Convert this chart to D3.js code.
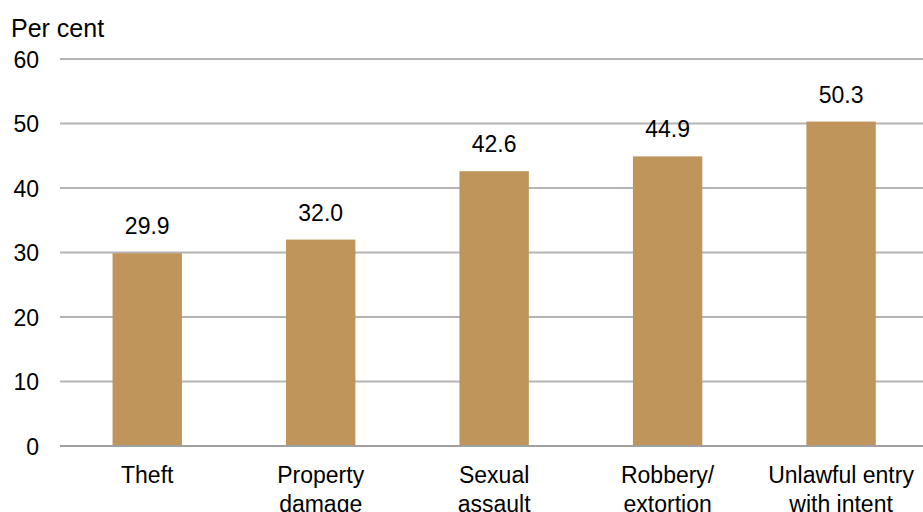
<!DOCTYPE html>
<html>
<head>
<meta charset="utf-8">
<script src="https://cdn.jsdelivr.net/npm/d3@7"></script>
<style>
  html, body { margin: 0; padding: 0; background: #fff; }
  svg { display: block; font-family: "Liberation Sans", Arial, sans-serif; }
</style>
</head>
<body>
<svg id="chart" width="923" height="512"></svg>
<script>
// Share of offences, per cent
const categories = [
  ["Theft"],
  ["Property", "damage"],
  ["Sexual", "assault"],
  ["Robbery/", "extortion"],
  ["Unlawful entry", "with intent"]
];
const values = [29.9, 32.0, 42.6, 44.9, 50.3];
const yTicks = [0, 10, 20, 30, 40, 50, 60];
const yTitle = "Per cent";

const W = 923, H = 512;
const svg = d3.select("#chart");

const keys = categories.map(c => c.join(" "));
const x = d3.scaleBand()
  .domain(keys)
  .range([60.5, 927.8])
  .paddingInner(0.6)
  .paddingOuter(0.3);

const y = d3.scaleLinear().domain([0, 60]).range([446, 59]);

const fontSize = 23;
const barColor = "#BF955B";

// gridlines
svg.append("g")
  .selectAll("line")
  .data(yTicks)
  .join("line")
  .attr("x1", 60)
  .attr("x2", W)
  .attr("y1", d => y(d))
  .attr("y2", d => y(d))
  .attr("stroke", d => d === 0 ? "#a0a0a0" : "#b4b4b4")
  .attr("stroke-width", 2);

// y axis labels
const yAxis = d3.axisLeft(y).tickValues(yTicks).tickSize(0).tickPadding(0).tickFormat(d3.format("d"));
const ya = svg.append("g").attr("transform", "translate(39,0)").call(yAxis);
ya.select(".domain").remove();
ya.selectAll("text")
  .attr("font-size", fontSize)
  .attr("font-family", "Liberation Sans, Arial, sans-serif")
  .attr("fill", "#000")
  .attr("dy", "0.35em");

svg.append("text")
  .attr("x", 11)
  .attr("y", 37)
  .attr("font-size", 25)
  .attr("fill", "#000")
  .text(yTitle);

// bars
svg.append("g")
  .selectAll("rect")
  .data(values)
  .join("rect")
  .attr("x", (d, i) => x(keys[i]))
  .attr("width", x.bandwidth())
  .attr("y", d => y(d))
  .attr("height", d => y(0) - y(d) - 1)
  .attr("fill", barColor);

// value labels
svg.append("g")
  .selectAll("text")
  .data(values)
  .join("text")
  .attr("x", (d, i) => x(keys[i]) + x.bandwidth() / 2)
  .attr("y", d => y(d) - 19)
  .attr("text-anchor", "middle")
  .attr("font-size", fontSize)
  .attr("fill", "#000")
  .text(d => d.toFixed(1));

// category labels
const cat = svg.append("g")
  .selectAll("text")
  .data(categories)
  .join("text")
  .attr("x", (d, i) => x(keys[i]) + x.bandwidth() / 2)
  .attr("y", 483)
  .attr("text-anchor", "middle")
  .attr("font-size", fontSize)
  .attr("fill", "#000");
cat.selectAll("tspan")
  .data(d => d)
  .join("tspan")
  .attr("x", function () { return this.parentNode.getAttribute("x"); })
  .attr("dy", (d, i) => i === 0 ? 0 : 29)
  .text(d => d);
</script>
</body>
</html>
